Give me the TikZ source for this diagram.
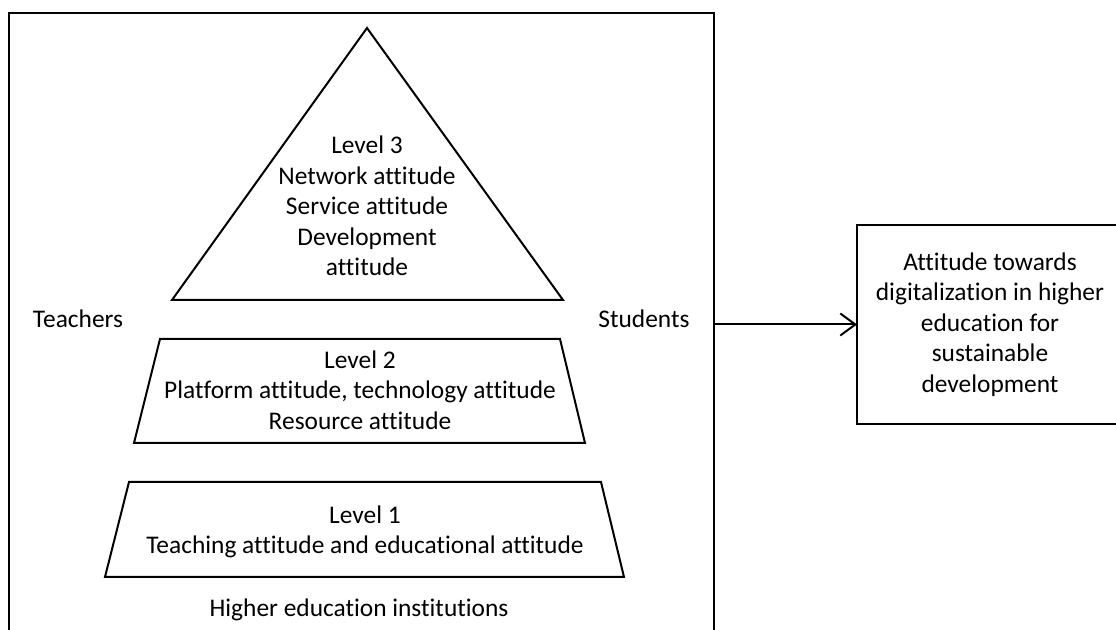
\documentclass[tikz,border=0pt]{standalone}
\usepackage{fontspec}
\setmainfont{Carlito}[Ligatures=NoCommon]
\usetikzlibrary{arrows.meta}

\begin{document}
\begin{tikzpicture}[x=0.5pt, y=-0.5pt, line width=1pt,
  txt/.style={align=center, font=\fontsize{12.7}{15.25}\selectfont, inner sep=0pt}]
\useasboundingbox (0,0) rectangle (1116,630);
\clip (0,0) rectangle (1116,630);
  \draw (9,640) -- (9,13) -- (714,13) -- (714,640);
  \coordinate (hei) at (714,324.5);
  \draw (367,28) -- (563,300) -- (172,300) -- cycle;
  \draw (160,339) -- (560,339) -- (585,443) -- (134,443) -- cycle;
  \draw (129,482) -- (601,482) -- (624,577) -- (105,577) -- cycle;
  \node[txt] (lvl3) at (367,206) {Level 3\\Network attitude\\Service attitude\\Development\\attitude};
  \node[txt] (lvl2) at (360,390) {Level 2\\Platform attitude, technology attitude\\Resource attitude};
  \node[txt] (lvl1) at (365,532) {Level 1\\Teaching attitude and educational attitude};
  \node[txt] (tea) at (78,319) {Teachers};
  \node[txt] (stu) at (644,319) {Students};
  \node[txt] (hei-label) at (359,610) {Higher education institutions};
  \node[anchor=west, minimum width=150pt, minimum height=98.5pt, inner sep=0pt] (att) at (857,324.5) {};
  \draw (att.north east) -- (att.north west) -- (att.south west) -- (att.south east);
  \node[txt] (att-text) at (990,324.5) {Attitude towards\\digitalization in higher\\education for\\sustainable\\development};
  \draw[-{Straight Barb[length=7.5pt,width=11pt]}] (hei) -- (att.west);
\end{tikzpicture}
\end{document}
